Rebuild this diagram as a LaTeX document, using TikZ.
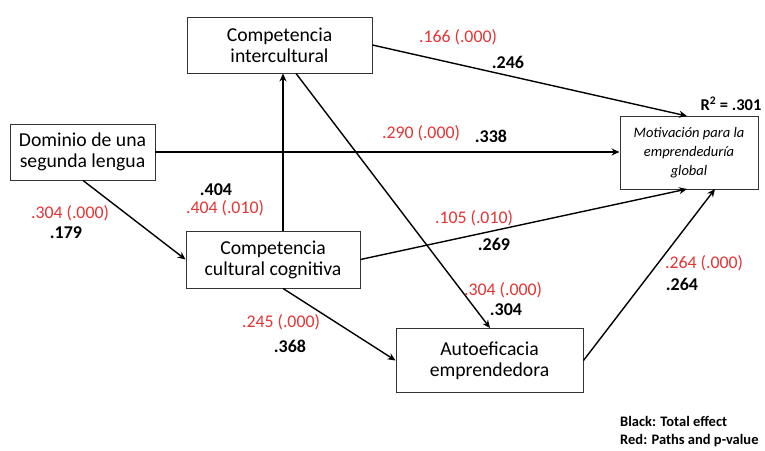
\documentclass[tikz,border=0pt]{standalone}
\usepackage{fontspec}
\setmainfont{Carlito}
\usetikzlibrary{arrows.meta}
\definecolor{pathred}{RGB}{228,52,52}
\begin{document}
\begin{tikzpicture}[x=1pt,y=-1pt,
  box/.style={draw=black!80,line width=0.9pt,fill=white,align=center,inner sep=0pt,font=\fontsize{19.7}{21}\selectfont},
  conn/.style={line width=1.4pt,-{Stealth[length=8pt,width=7pt]}},
  red/.style={text=pathred,font=\fontsize{17.8}{19}\selectfont,inner sep=0pt},
  blk/.style={text=black,font=\fontsize{18}{19}\selectfont\bfseries,inner sep=0pt},
  leg/.style={text=black,font=\fontsize{14.5}{17}\selectfont\bfseries,inner sep=0pt,anchor=west}]
\useasboundingbox (0,0) rectangle (765,450);
\node[box,minimum width=185pt,minimum height=56pt] (ci) at (279.5,45) {Competencia\\intercultural};
\node[box,minimum width=145pt,minimum height=56pt] (dom) at (82.5,152) {Dominio de una\\segunda lengua};
\node[box,minimum width=138pt,minimum height=73pt,font=\fontsize{14.5}{19}\selectfont\itshape] (mot) at (689,152.5) {Motivación para la\\emprendeduría\\global};
\node[box,minimum width=174pt,minimum height=57pt] (ccc) at (273,259.5) {Competencia\\cultural cognitiva};
\node[box,minimum width=187pt,minimum height=64pt] (auto) at (489.5,360.5) {Autoeficacia\\emprendedora};

\coordinate (motT) at (687,116);
\coordinate (motB1) at (687,189);
\coordinate (motB2) at (715,189);

\draw[conn] (ci.east) -- (motT);
\draw[conn,line width=1.8pt] (dom.east) -- (mot.west |- dom.east);
\draw[conn] (dom.south -| 83,0) -- (ccc.west);
\draw[conn] (ccc.north -| 283,0) -- (ci.south -| 283,0);
\draw[conn] (ci.south -| 296,0) -- (auto.north -| 490,0);
\draw[conn] (ccc.east) -- (motB1);
\draw[conn] (ccc.south -| 283,0) -- (auto.west);
\draw[conn] (auto.east) -- (motB2);

\node[red] (l1) at (458,37) {.166 (.000)};
\node[blk] (b1) at (508,62) {.246};
\node[blk,font=\fontsize{16.5}{19}\selectfont\bfseries] (r2) at (731,104) {R\textsuperscript{2} = .301};
\node[red] (l2) at (421,133) {.290 (.000)};
\node[blk] (b2) at (491,136) {.338};
\node[blk] (b3) at (216,190) {.404};
\node[red] (l3) at (225,208) {.404 (.010)};
\node[red] (l4) at (70,213) {.304 (.000)};
\node[blk] (b4) at (66,233) {.179};
\node[red] (l5) at (474,218) {.105 (.010)};
\node[blk] (b5) at (494,244) {.269};
\node[red] (l6) at (503,290) {.304 (.000)};
\node[blk] (b6) at (506,310) {.304};
\node[red] (l7) at (281,322) {.245 (.000)};
\node[blk] (b7) at (290,346) {.368};
\node[red] (l8) at (704,263) {.264 (.000)};
\node[blk] (b8) at (682,284) {.264};
\node[leg] (lg1) at (620,421) {Black: Total effect};
\node[leg] (lg2) at (620,441) {Red: Paths and p-value};
\end{tikzpicture}
\end{document}
